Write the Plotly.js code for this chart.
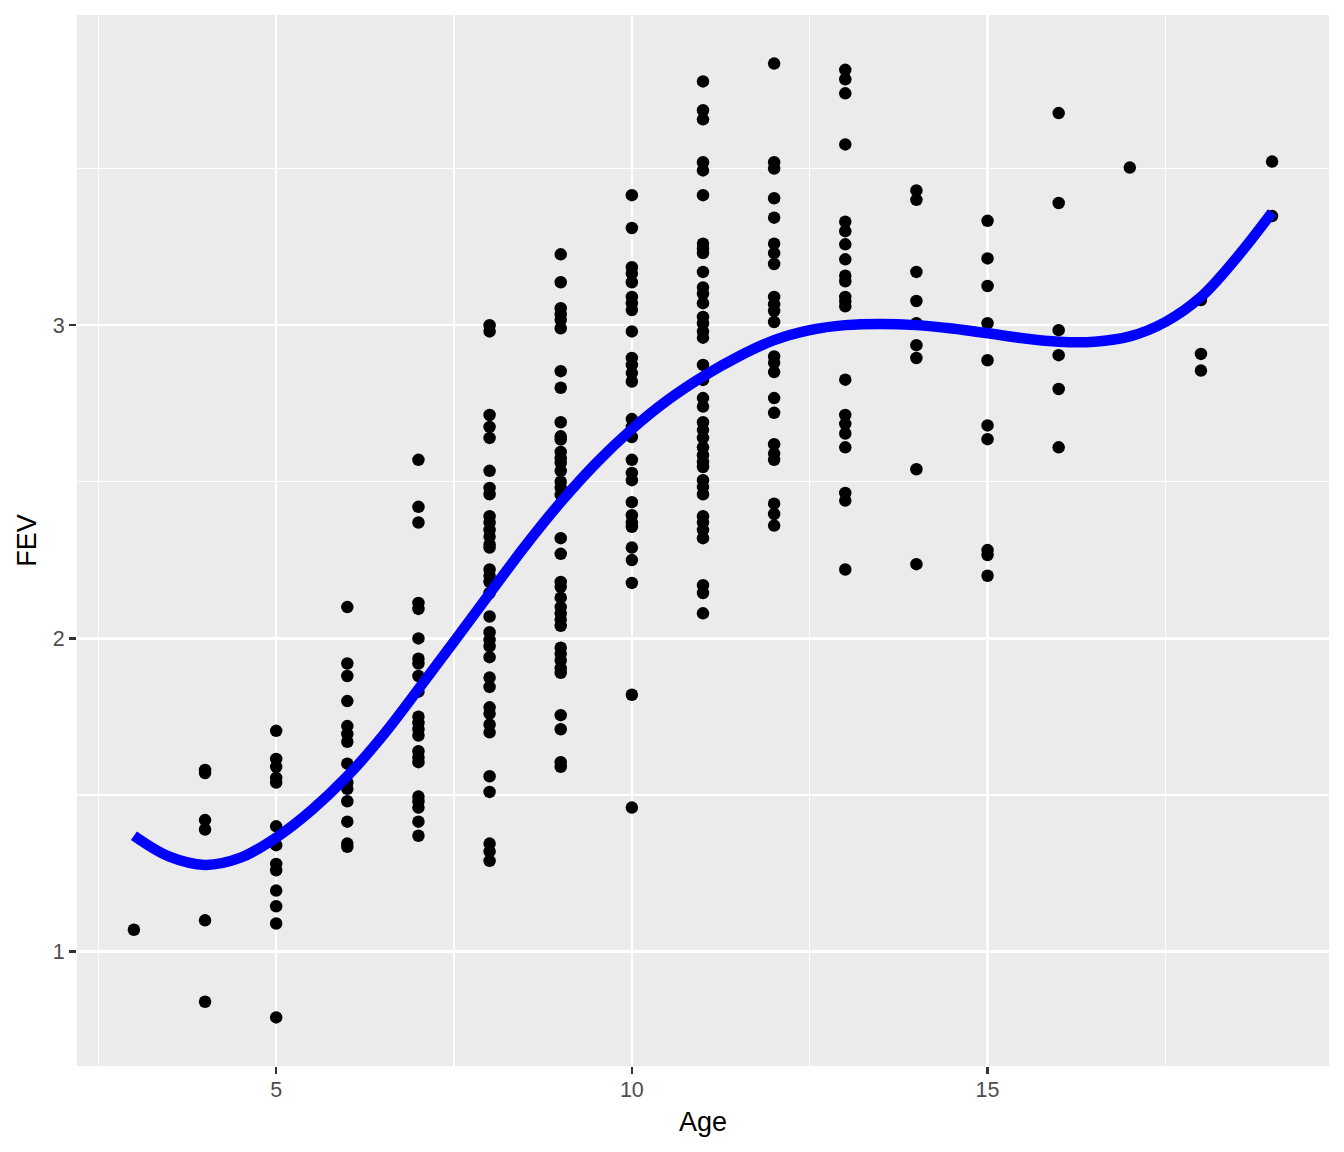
<!DOCTYPE html>
<html>
<head>
<meta charset="utf-8">
<script src="https://cdn.plot.ly/plotly-3.0.1.min.js"></script>
<style>
  html, body { margin: 0; padding: 0; background: #ffffff; }
  #graphDiv { width: 1344px; height: 1152px; }
</style>
</head>
<body>
<div id="graphDiv"></div>
<script>
// FEV readings per age
var ages = [3, 4, 5, 6, 7, 8, 9, 10, 11, 12, 13, 14, 15, 16, 17, 18, 19];
var fevByAge = [
    [1.07],
    [1.58, 1.57, 1.42, 1.39, 1.10, 0.84],
    [1.705, 1.615, 1.59, 1.555, 1.54, 1.40, 1.34, 1.28, 1.26, 1.195, 1.145, 1.09, 0.79],
    [2.10, 1.92, 1.88, 1.80, 1.72, 1.695, 1.67, 1.60, 1.54, 1.52, 1.48, 1.415, 1.345, 1.335],
    [2.57, 2.42, 2.37, 2.113, 2.094, 2.00, 1.935, 1.92, 1.88, 1.83, 1.75, 1.73, 1.71, 1.69,
        1.64, 1.62, 1.605, 1.495, 1.48, 1.46, 1.415, 1.37],
    [3.00, 2.98, 2.713, 2.675, 2.64, 2.535, 2.48, 2.46, 2.39, 2.37, 2.346, 2.325, 2.30, 2.29,
        2.22, 2.20, 2.18, 2.145, 2.07, 2.02, 1.995, 1.975, 1.94, 1.875, 1.845, 1.78, 1.76,
        1.725, 1.70, 1.56, 1.51, 1.345, 1.32, 1.29],
    [3.226, 3.137, 3.054, 3.035, 3.016, 2.99, 2.853, 2.80, 2.69, 2.645, 2.635, 2.595, 2.575,
        2.56, 2.535, 2.50, 2.48, 2.458, 2.32, 2.27, 2.18, 2.165, 2.13, 2.10, 2.08, 2.06, 2.04,
        1.97, 1.95, 1.93, 1.905, 1.89, 1.755, 1.71, 1.605, 1.59],
    [3.415, 3.31, 3.185, 3.165, 3.137, 3.09, 3.07, 3.048, 2.98, 2.895, 2.873, 2.847, 2.82,
        2.70, 2.675, 2.643, 2.57, 2.528, 2.505, 2.435, 2.393, 2.37, 2.356, 2.29, 2.25, 2.177,
        1.82, 1.46],
    [3.778, 3.686, 3.657, 3.52, 3.494, 3.415, 3.26, 3.245, 3.23, 3.17, 3.12, 3.10, 3.07,
        3.026, 3.006, 2.98, 2.96, 2.873, 2.825, 2.767, 2.74, 2.69, 2.665, 2.64, 2.61, 2.585,
        2.563, 2.547, 2.505, 2.483, 2.46, 2.39, 2.37, 2.346, 2.32, 2.17, 2.145, 2.08],
    [3.835, 3.52, 3.50, 3.405, 3.343, 3.26, 3.23, 3.195, 3.09, 3.067, 3.045, 3.01, 2.90,
        2.88, 2.85, 2.767, 2.72, 2.62, 2.59, 2.57, 2.43, 2.397, 2.36],
    [3.815, 3.785, 3.74, 3.577, 3.33, 3.30, 3.258, 3.21, 3.158, 3.14, 3.09, 3.076, 3.06,
        2.826, 2.713, 2.685, 2.654, 2.61, 2.464, 2.44, 2.22],
    [3.43, 3.40, 3.17, 3.077, 3.006, 2.936, 2.895, 2.54, 2.237],
    [3.333, 3.213, 3.125, 3.006, 2.888, 2.68, 2.636, 2.282, 2.266, 2.20],
    [3.677, 3.39, 2.984, 2.904, 2.796, 2.61],
    [3.503],
    [3.08, 2.908, 2.855],
    [3.522, 3.348]
];

// smooth curve, read at half-year steps
var smoothAge = [3, 3.5, 4, 4.5, 5, 5.5, 6, 6.5, 7, 7.5, 8, 8.5, 9, 9.5, 10, 10.5, 11,
    11.5, 12, 12.5, 13, 13.5, 14, 14.5, 15, 15.5, 16, 16.5, 17, 17.5, 18, 18.5, 19];
var smoothFev = [1.370, 1.303, 1.277, 1.300, 1.364, 1.452, 1.560, 1.690, 1.838, 1.990, 2.143,
    2.295, 2.435, 2.560, 2.668, 2.760, 2.836, 2.900, 2.952, 2.984, 3.000, 3.004, 3.000, 2.989,
    2.974, 2.958, 2.947, 2.947, 2.964, 3.010, 3.090, 3.215, 3.360];

var xTicks = [5, 10, 15];
var yTicks = [1, 2, 3];

var ptX = [], ptY = [];
for (var i = 0; i < ages.length; i++) {
    for (var j = 0; j < fevByAge[i].length; j++) {
        ptX.push(ages[i]);
        ptY.push(fevByAge[i][j]);
    }
}

var points = {
    type: 'scatter',
    mode: 'markers',
    x: ptX,
    y: ptY,
    marker: { color: 'black', size: 12.5 },
    hoverinfo: 'skip'
};
var smooth = {
    type: 'scatter',
    mode: 'lines',
    x: smoothAge,
    y: smoothFev,
    line: { color: '#0000FF', width: 10.5, shape: 'spline', smoothing: 1 },
    hoverinfo: 'skip'
};

var font = 'Liberation Sans, Arial, Helvetica, sans-serif';
var layout = {
    width: 1344,
    height: 1152,
    margin: { l: 77, r: 15, t: 15, b: 86, pad: 0 },
    paper_bgcolor: '#ffffff',
    plot_bgcolor: '#EBEBEB',
    showlegend: false,
    font: { family: font },
    xaxis: {
        range: [2.2, 19.8],
        tickmode: 'array',
        tickvals: xTicks,
        ticktext: xTicks.map(String),
        ticks: 'outside',
        ticklen: 7,
        tickwidth: 2.4,
        tickcolor: '#333333',
        ticklabelstandoff: -3,
        tickfont: { size: 21.5, color: '#4D4D4D', family: font },
        showgrid: true,
        gridcolor: '#ffffff',
        gridwidth: 2.4,
        minor: { tickmode: 'array', tickvals: [2.5, 7.5, 12.5, 17.5], showgrid: true,
            gridcolor: '#ffffff', gridwidth: 1.2, ticks: '' },
        zeroline: false,
        showline: false,
        automargin: false,
        title: { text: 'Age', font: { size: 27, color: '#000000', family: font }, standoff: 11 }
    },
    yaxis: {
        range: [0.635, 3.99],
        tickmode: 'array',
        tickvals: yTicks,
        ticktext: yTicks.map(String),
        ticks: 'outside',
        ticklen: 7,
        tickwidth: 2.4,
        tickcolor: '#333333',
        tickfont: { size: 21.5, color: '#4D4D4D', family: font },
        showgrid: true,
        gridcolor: '#ffffff',
        gridwidth: 2.4,
        minor: { tickmode: 'array', tickvals: [1.5, 2.5, 3.5], showgrid: true,
            gridcolor: '#ffffff', gridwidth: 1.2, ticks: '' },
        zeroline: false,
        showline: false,
        automargin: false,
        title: { text: 'FEV', font: { size: 27, color: '#000000', family: font }, standoff: 8 }
    }
};

Plotly.newPlot('graphDiv', [points, smooth], layout, { displayModeBar: false, staticPlot: true });
</script>
</body>
</html>
